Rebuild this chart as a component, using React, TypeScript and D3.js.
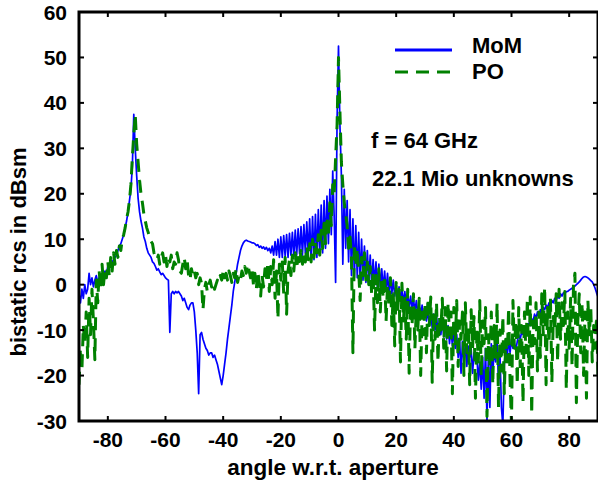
import React from "react";
import * as d3 from "d3";

// angle grid: -90 .. 90 in 0.5 degree steps (361 samples)
const angles: number[] = d3.range(0, 361).map((i) => -90 + i * 0.5);

const momValues: number[] = [
  -2, -4, -1, -3, 0, -2, -1, 2.5, 0, 1.5, -0.5, 1, 2, 0.5, 1.5, 1, 2.5, 2, 3, 2.5,
  4, 4.5, 4, 5, 5.5, 6, 6.5, 7.5, 8.5, 9, 10, 11, 12.5, 14, 16, 18.5, 21, 26, 37.5, 30,
  24, 19, 16, 14, 12.5, 10.5, 9.5, 8, 7, 6.5, 6, 5, 4.7, 4, 3.2, 3.5, 2.8, 2.2, 2.5, 2,
  1.5, 1.2, 1, -10.5, -2, -1.5, -2, -1.5, -1.8, -1.5, -2, -2.5, -3.5, -3, -4, -5, -5.5, -4.5, -4, -4,
  -6, -10, -15, -24, -11, -10.5, -12, -13, -14, -14.5, -15.5, -15, -15, -16, -15.5, -16.5, -17.5, -19, -20.5, -22,
  -20, -17.5, -15, -12, -9.5, -7, -4.5, -1.5, 0.5, 2.5, 4.5, 6, 7.5, 8.5, 9.2, 9.6, 9.8, 9.6, 9.5, 9.4,
  9.2, 9.2, 9, 8.6, 8.8, 8.2, 8.5, 8, 8.3, 7.8, 8.2, 7.5, 8, 7, 8.5, 6.5, 9.5, 6.5, 10, 6,
  10.5, 6, 10.8, 6.2, 11, 6, 11.3, 6.5, 11.5, 6.2, 12, 6.5, 12.3, 6.8, 12.8, 6.5, 13.2, 7, 13.8, 6.8,
  14.5, 5, 15, 5.5, 15.5, 6, 16.5, 6.5, 17.5, 7, 18.5, 8, 19.5, 9, 21, 11, 25, 15, 0.5, 36,
  52.5, 35, 24, 4.5, 21, 8, 18.5, 5, 16.5, 2, 14.5, 1.5, 13, 1.5, 11.5, 1, 10, 1, 8.5, 0.5,
  7.5, 0.5, 6.5, 0, 5.5, 0, 5, -0.5, 4.5, -0.5, 3.5, -1, 3, -1.5, 2.5, -2, 1.5, -2, 1, -2.5,
  0, -3, -0.5, -3.5, -1, -4, -1.5, -4.5, -2, -5, -2.5, -5.5, -3, -6, -3.5, -6.5, -4, -7, -4.5, -7.5,
  -5, -8, -5.5, -9, -6, -9.5, -6.5, -10, -7, -10.5, -7.5, -11, -8, -11.5, -8.5, -12, -9, -13, -9.5, -13.5,
  -10, -14, -11, -16, -12, -19.5, -12.5, -17, -13, -18, -13.5, -16, -14, -19.5, -15, -17, -16, -21, -17, -23,
  -16, -25, -14, -30, -15, -27, -13, -20, -14, -17, -12, -22, -15, -27, -31, -18, -13, -16, -12, -15,
  -12, -14, -13, -14.5, -12.5, -11, -12, -10.5, -11, -9.5, -10, -9, -8.5, -9, -7.5, -8, -6.5, -7.5, -6, -7,
  -5.5, -6.5, -5, -5.5, -4.5, -5, -4, -5, -3.5, -4, -3, -3.5, -2.5, -3, -2, -2.5, -1.8, -2, -1.5, -1.5,
  -1.2, -1, -0.8, -0.5, -0.3, 0, 0.3, 0.6, 1, 1.4, 1.7, 1.8, 1.7, 1.5, 1.2, 0.9, 0.6, 0, -0.8, -1.8,
  -2.7,
];

const poValues: number[] = [
  -22, -14, -19, -9, -13, -6, -16, -3, -11, -1, -8, -16.5, 1, -4, 3, -1, 4.5, 0, 3.5, 1.5,
  5, 2, 6, 3, 7, 4.5, 7.5, 6, 8.5, 7.5, 10, 11, 12.5, 14.5, 16, 18.5, 22, 28, 33, 37.5,
  31, 27, 23, 20, 18, 15.5, 14, 12.5, 11.5, 10.5, 9.5, 9, 7, 6, 5.5, 6.5, 4.5, 6, 7, 5,
  6.5, 4, 6, 5, 6.5, 3.5, 5, 4.5, 7, 5.5, 3, 2.5, 4.5, 6, 3.5, 5.5, 2, 1, 3.5, 2,
  3, 1.5, 2.5, 0, 1.5, 0.3, -5.5, -1, 0.5, -1.5, 0, 1, -0.5, 0.5, -1, 0, 1, 0.5, 2, 1,
  3, 1.5, 2.5, 1, 3, 2, 0.5, 2.5, 1.5, 3.5, 0.5, 2, 1, 3, 2, 4, 2.5, 4.5, 3, 1.5,
  3.5, 0, 2.5, -1, 3, 0.5, -2.5, 2, -0.5, 3.5, 1, 5, -1.5, 4, 0, 5.5, -3, 3, -7.5, 4.5,
  1, 5, -2, 6, -6.5, 3, 5.5, 2, 6.5, 3, 7, 3.5, 6, 4, 7.5, 4.5, 7, 5, 8.5, 5.5,
  9, 5, 10, 6, 9.5, 7, 11, 6.5, 12, 8, 13.5, 9, 15, 10.5, 18, 13, 22, 20, 28, 35,
  50, 38, 27, 22, 18, 15.5, 13, 8, 10.5, 6, -15, 9, 4, 8, 3, -3.5, 6, 2, 7, 1,
  5, 0, 4, -2, 3, -10, 2, -4, 3.5, -6, 1.5, -3, 2, -8, 0, -5, 1.5, -9, -2, -13.5,
  0.5, -6, -1, -17, 0.3, -8, -3, -12, -1, -19.5, -4, -9, -2, -14, -5, -10, -3, -20, -6, -11,
  -4, -15, -3, -9, -2.7, -21.5, -6, -12, -4, -17, -7, -10, -3, -14, -5, -19, -4, -11, -6, -24,
  -5, -13, -3.5, -18, -8, -12, -6, -20, -4, -15, -9, -22, -5.5, -14, -7, -25, -10, -17, -3.5, -20,
  -8, -13, -5, -29, -11, -18, -6, -22, -9, -16, -4, -27, -10, -19, -7, -24, -12, -17, -5, -21,
  -30.5, -3.5, -14, -8, -22, -5, -18, -9, -26, -6, -15, -3, -20, -2.7, -28.5, -8, -13, -4, -19, -6,
  -16, -2, -11, -0.5, -22, -5, -13, -3, -21.5, -7, -10, -2, -17, -1, -12, -4, -9, -1.5, -23, -6,
  -14, -3, -18, 0, 2.5, -26, -8, -2, -15, -4, -20, -6, -25, -3.5, -11, -5, -17, -9, -14, -7,
  -20,
];

const xTicks: number[] = [-80, -60, -40, -20, 0, 20, 40, 60, 80];
const yTicks: number[] = [-30, -20, -10, 0, 10, 20, 30, 40, 50, 60];
const seriesNames: string[] = ["MoM", "PO"];
const annotations: string[] = ["f = 64 GHz", "22.1 Mio unknowns"];

const W = 598;
const H = 484;
const L = 79;
const R = 598;
const T = 12;
const B = 421;
const FONT = "'Liberation Sans', Arial, Helvetica, sans-serif";

export default function App() {
  const x = d3.scaleLinear().domain([-90, 90]).range([L, R]);
  const y = d3.scaleLinear().domain([-30, 60]).range([B, T]);
  const line = d3
    .line<number>()
    .x((_, i) => x(angles[i]))
    .y((d) => y(d));
  const momPath = line(momValues) || "";
  const poPath = line(poValues) || "";
  const tickLen = 5;

  return (
    <svg
      width={W}
      height={H}
      style={{ position: "absolute", left: 0, top: 0, background: "#fff" }}
      fontFamily={FONT}
      fontWeight="bold"
    >
      <defs>
        <clipPath id="plotclip">
          <rect x={L} y={T} width={R - L} height={B - T} />
        </clipPath>
      </defs>
      <rect x={0} y={0} width={W} height={H} fill="#fff" />
      <g clipPath="url(#plotclip)">
        <path d={momPath} fill="none" stroke="#0000ff" strokeWidth={1.7} strokeLinejoin="round" />
        <path
          d={poPath}
          fill="none"
          stroke="#008000"
          strokeWidth={3}
          strokeDasharray="13,8"
          strokeLinejoin="round"
        />
      </g>
      {/* frame */}
      <rect x={L} y={T} width={R - L} height={B - T} fill="none" stroke="#000" strokeWidth={3} />
      {/* x ticks */}
      {xTicks.map((t) => (
        <g key={"xt" + t}>
          <line x1={x(t)} x2={x(t)} y1={B} y2={B - tickLen} stroke="#000" strokeWidth={2} />
          <line x1={x(t)} x2={x(t)} y1={T} y2={T + tickLen} stroke="#000" strokeWidth={2} />
          <text x={x(t)} y={447} textAnchor="middle" fontSize={21}>
            {t}
          </text>
        </g>
      ))}
      {/* y ticks */}
      {yTicks.map((t) => (
        <g key={"yt" + t}>
          <line x1={L} x2={L + tickLen} y1={y(t)} y2={y(t)} stroke="#000" strokeWidth={2} />
          <line x1={R} x2={R - tickLen} y1={y(t)} y2={y(t)} stroke="#000" strokeWidth={2} />
          <text x={67} y={y(t)} dy="0.36em" textAnchor="end" fontSize={21}>
            {t}
          </text>
        </g>
      ))}
      {/* axis titles */}
      <text x={333} y={475} textAnchor="middle" fontSize={22.5}>
        angle w.r.t. aperture
      </text>
      <text
        transform={`translate(26, 252) rotate(-90)`}
        textAnchor="middle"
        fontSize={22}
      >
        bistatic rcs in dBsm
      </text>
      {/* legend */}
      <line x1={395} x2={452} y1={50} y2={50} stroke="#0000ff" strokeWidth={3} />
      <text x={472} y={53} fontSize={22}>
        {seriesNames[0]}
      </text>
      <line
        x1={395}
        x2={453}
        y1={72}
        y2={72}
        stroke="#008000"
        strokeWidth={3}
        strokeDasharray="13,8"
      />
      <text x={472} y={79} fontSize={22}>
        {seriesNames[1]}
      </text>
      {/* annotations */}
      <text x={371} y={148} fontSize={22}>
        {annotations[0]}
      </text>
      <text x={372} y={186} fontSize={22}>
        {annotations[1]}
      </text>
    </svg>
  );
}
